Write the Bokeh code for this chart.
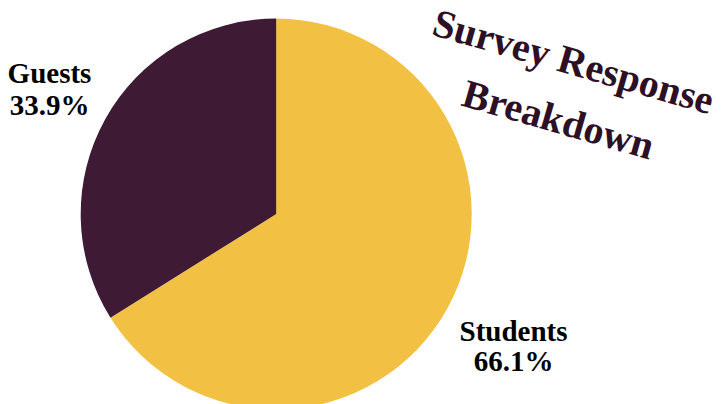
import numpy as np
from bokeh.plotting import figure
from bokeh.models import Range1d, ColumnDataSource
from bokeh.core.properties import value
from bokeh.embed import file_html
from bokeh.resources import INLINE

categories = ["Students", "Guests"]
shares = [66.1, 33.9]
colors = ["#F2C144", "#3F1A35"]
title_lines = ["Survey Response", "Breakdown"]

W, H = 722, 404
FONT = value("'Liberation Serif', 'Times New Roman', Times, serif")
p = figure(width=W, height=H, output_backend="svg", toolbar_location=None,
           x_range=Range1d(0, W), y_range=Range1d(0, H), min_border=0,
           background_fill_color="white", border_fill_color="white")
p.axis.visible = False
p.grid.visible = False
p.outline_line_color = None

vals = np.array(shares, dtype=float)
ang = vals / vals.sum() * 2 * np.pi
cum = np.cumsum(ang)
# clockwise from top
end = np.pi / 2 - np.concatenate([[0], cum[:-1]])
start = np.pi / 2 - cum
cx, cy, r = 275.7, H - 213.5, 195.5
src = ColumnDataSource(dict(cat=categories, start=start, end=end, color=colors,
                            x=[cx] * 2, y=[cy] * 2))
p.wedge(x="x", y="y", radius=r, start_angle="start", end_angle="end",
        fill_color="color", line_color=None, source=src)

# labels (name line and percent line)
lab_x = [513, 49]
name_y = [H - 330, H - 72]
pct_y = [H - 360, H - 104]
pct_text = [f"{s:.1f}%" for s in shares]
p.text(x=lab_x, y=name_y, text=categories, text_align="center", text_baseline="middle",
       text_font=FONT, text_font_style="bold",
       text_font_size="29px", text_color="#000000")
p.text(x=lab_x, y=pct_y, text=pct_text, text_align="center", text_baseline="middle",
       text_font=FONT, text_font_style="bold",
       text_font_size="29px", text_color="#000000")

# title
p.text(x=[573, 558], y=[H - 61, H - 119], text=title_lines, angle=np.deg2rad(-16),
       text_align="center", text_baseline="middle",
       text_font=FONT, text_font_style="bold",
       text_font_size="40px", text_color="#2D1026")

open("out.html", "w").write(file_html(p, INLINE))
